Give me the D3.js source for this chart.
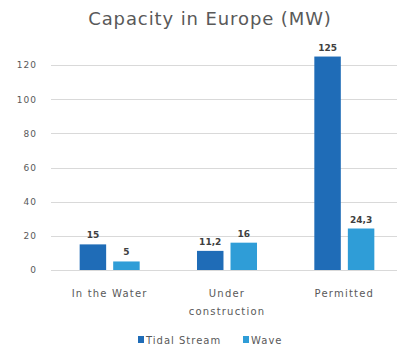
<!DOCTYPE html>
<meta charset="utf-8">
<script src="https://d3js.org/d3.v7.min.js"></script>
<style>
  body { margin: 0; background: #fff; }
  text { font-family: "DejaVu Sans", "Liberation Sans", sans-serif; }
</style>
<div id="chart"></div>
<script>
  // data
  var categories = ["In the Water", "Under construction", "Permitted"];
  var seriesNames = ["Tidal Stream", "Wave"];
  var tidalStream = [15, 11.2, 125];
  var wave = [5, 16, 24.3];
  var yTicks = [0, 20, 40, 60, 80, 100, 120];
  var colors = ["#1f6cb7", "#2f9dd7"];

  var W = 397, H = 348;
  var margin = {top: 48, right: -6, bottom: 78, left: 51};
  var width = W - margin.left - margin.right,
      height = H - margin.top - margin.bottom;

  var svg = d3.select("#chart").append("svg")
    .attr("width", W).attr("height", H);

  svg.append("text")
    .attr("x", 210).attr("y", 25)
    .attr("text-anchor", "middle")
    .style("font-size", "18px")
    .style("letter-spacing", "0.9px")
    .style("fill", "#595959")
    .text("Capacity in Europe (MW)");

  var g = svg.append("g")
    .attr("transform", "translate(" + margin.left + "," + margin.top + ")");

  var x = d3.scaleBand().domain(categories).range([0, width]);
  var xs = d3.scaleBand().domain(seriesNames).range([0, x.bandwidth()])
    .paddingInner(0.21).paddingOuter(0.855);
  var y = d3.scaleLinear().domain([0, 130]).range([height, 0]);

  // gridlines
  g.selectAll(".grid").data(yTicks).enter().append("line")
    .attr("x1", 0).attr("x2", width)
    .attr("y1", function(d) { return Math.round(y(d)) + 0.5; })
    .attr("y2", function(d) { return Math.round(y(d)) + 0.5; })
    .style("stroke", "#d9d9d9").style("stroke-width", 1);

  // y axis labels
  var yAxis = g.append("g")
    .call(d3.axisLeft(y).tickValues(yTicks).tickSize(0).tickPadding(14));
  yAxis.select(".domain").remove();
  yAxis.selectAll("text")
    .style("font-family", "DejaVu Sans")
    .style("font-size", "9px").style("letter-spacing", "1px")
    .style("fill", "#595959");

  var rows = categories.map(function(c, i) {
    return {cat: c, vals: [tidalStream[i], wave[i]]};
  });

  var groups = g.selectAll(".grp").data(rows).enter().append("g")
    .attr("transform", function(d) { return "translate(" + x(d.cat) + ",0)"; });

  var fmt = function(v) { return String(v).replace(".", ","); };

  groups.selectAll("rect").data(function(d) {
      return d.vals.map(function(v, i) { return {s: seriesNames[i], v: v, i: i}; });
    }).enter().append("rect")
    .attr("x", function(d) { return xs(d.s); })
    .attr("y", function(d) { return y(d.v); })
    .attr("width", xs.bandwidth())
    .attr("height", function(d) { return height - y(d.v); })
    .style("fill", function(d) { return colors[d.i]; });

  groups.selectAll(".lbl").data(function(d) {
      return d.vals.map(function(v, i) { return {s: seriesNames[i], v: v}; });
    }).enter().append("text")
    .attr("x", function(d) { return xs(d.s) + xs.bandwidth() / 2; })
    .attr("y", function(d) { return y(d.v) - 6; })
    .attr("text-anchor", "middle")
    .style("font-size", "9px")
    .style("font-weight", "600")
    .style("fill", "#404040")
    .text(function(d) { return fmt(d.v); });

  // category labels (wrap "Under construction")
  groups.append("text")
    .attr("x", x.bandwidth() / 2)
    .attr("y", height + 27)
    .attr("text-anchor", "middle")
    .style("font-size", "10px")
    .style("letter-spacing", "1.2px")
    .style("fill", "#595959")
    .each(function(d) {
      var words = d.cat === "Under construction" ? ["Under", "construction"] : [d.cat];
      var t = d3.select(this);
      words.forEach(function(w, i) {
        t.append("tspan").attr("x", x.bandwidth() / 2).attr("dy", i ? 18 : 0).text(w);
      });
    });

  // legend
  var legendX = [138, 243];
  var leg = svg.selectAll(".leg").data(seriesNames).enter().append("g")
    .attr("transform", function(d, i) { return "translate(" + legendX[i] + ",336)"; });
  leg.append("rect").attr("width", 6).attr("height", 7)
    .style("fill", function(d, i) { return colors[i]; });
  leg.append("text").attr("x", 8).attr("y", 8)
    .style("font-size", "10px").style("letter-spacing", "1px")
    .style("fill", "#595959")
    .text(function(d) { return d; });
</script>
